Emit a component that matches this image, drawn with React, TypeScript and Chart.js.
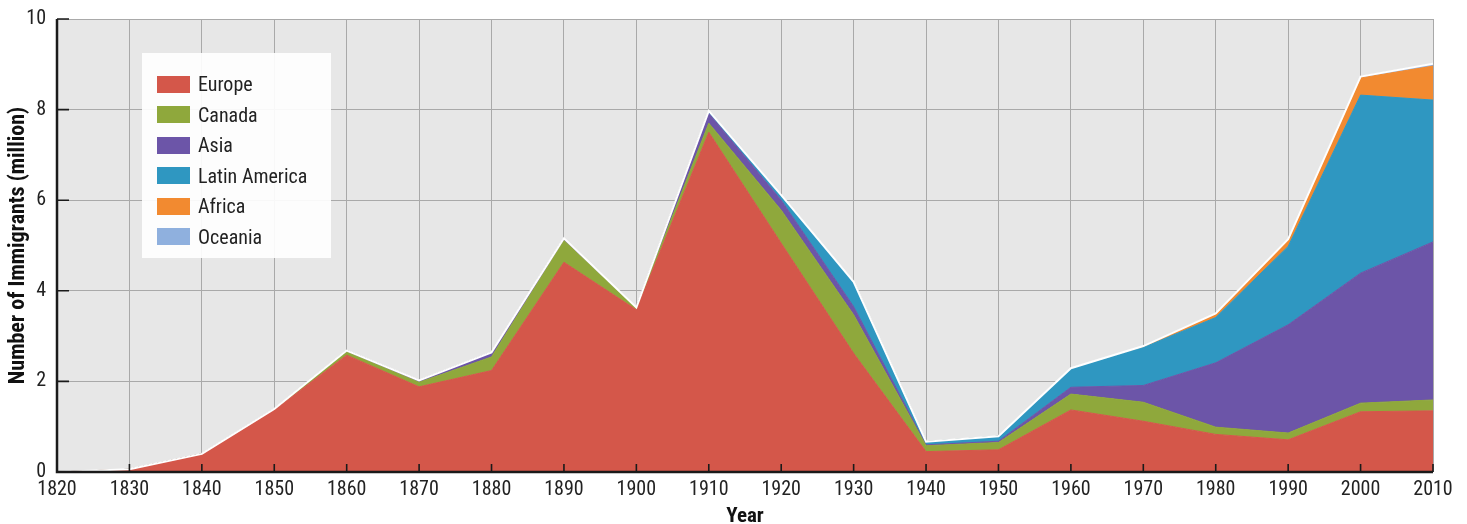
import React, { useEffect, useRef } from "react";
import { Chart, registerables } from "chart.js";

Chart.register(...registerables);

const years = ["1820", "1830", "1840", "1850", "1860", "1870", "1880", "1890", "1900", "1910", "1920", "1930", "1940", "1950", "1960", "1970", "1980", "1990", "2000", "2010"];

const europe = [0, 0.06, 0.4, 1.37, 2.58, 1.88, 2.24, 4.63, 3.58, 7.5, 5.05, 2.62, 0.45, 0.49, 1.37, 1.12, 0.83, 0.71, 1.33, 1.35];
const canada = [0, 0, 0, 0.01, 0.07, 0.1, 0.3, 0.48, 0.03, 0.2, 0.73, 0.85, 0.13, 0.16, 0.35, 0.42, 0.16, 0.15, 0.19, 0.24];
const asia = [0, 0, 0, 0.01, 0.03, 0.04, 0.1, 0.05, 0.02, 0.22, 0.22, 0.18, 0.02, 0.03, 0.15, 0.37, 1.42, 2.39, 2.87, 3.49];
const latinAmerica = [0, 0, 0, 0, 0, 0, 0, 0, 0, 0.05, 0.11, 0.55, 0.07, 0.11, 0.42, 0.84, 1.0, 1.73, 3.93, 3.13];
const africa = [0, 0, 0, 0, 0, 0, 0, 0, 0, 0, 0, 0, 0, 0, 0, 0.02, 0.07, 0.14, 0.38, 0.75];
const oceania = [0, 0, 0, 0, 0, 0, 0, 0, 0, 0, 0, 0, 0, 0, 0, 0.01, 0.02, 0.02, 0.03, 0.05];

const seriesLabels = ["Europe", "Canada", "Asia", "Latin America", "Africa", "Oceania"];
const seriesColors = ["#d4574a", "#8fa83c", "#6c55a8", "#2f97c1", "#f28a30", "#8fb0de"];
const seriesValues = [europe, canada, asia, latinAmerica, africa, oceania];

const yTitle = "Number of Immigrants (million)";
const xTitle = "Year";

const FONT = "'Liberation Sans Narrow', 'Arial Narrow', 'Roboto Condensed', 'Liberation Sans', sans-serif";

export default function App() {
  const ref = useRef<HTMLCanvasElement>(null);

  useEffect(() => {
    if (!ref.current) return;
    const totals = years.map((_, i) => seriesValues.reduce((s, arr) => s + arr[i], 0));

    const bgPlugin = {
      id: "plotBg",
      beforeDraw(chart: any) {
        const { ctx, chartArea: a } = chart;
        ctx.save();
        ctx.fillStyle = "#e7e7e7";
        ctx.fillRect(a.left, a.top, a.right - a.left, a.bottom - a.top);
        ctx.restore();
      },
    };

    const axisPlugin = {
      id: "innerTicks",
      afterDatasetsDraw(chart: any) {
        const { ctx, chartArea: a } = chart;
        const xs = chart.scales.x;
        const ys = chart.scales.y;
        ctx.save();
        ctx.strokeStyle = "#1a1a1a";
        ctx.lineWidth = 1.6;
        ctx.beginPath();
        xs.ticks.forEach((_: any, i: number) => {
          const px = xs.getPixelForTick(i);
          ctx.moveTo(px, a.bottom);
          ctx.lineTo(px, a.bottom - 8);
        });
        ys.ticks.forEach((_: any, i: number) => {
          const py = ys.getPixelForTick(i);
          ctx.moveTo(a.left, py);
          ctx.lineTo(a.left + 12, py);
        });
        ctx.stroke();
        ctx.lineWidth = 2.5;
        ctx.beginPath();
        ctx.moveTo(a.left, a.top);
        ctx.lineTo(a.left, a.bottom);
        ctx.lineTo(a.right, a.bottom);
        ctx.stroke();
        ctx.restore();
      },
    };

    const datasets: any[] = seriesLabels.map((label, i) => ({
      label,
      data: seriesValues[i],
      backgroundColor: seriesColors[i],
      borderColor: seriesColors[i],
      borderWidth: 1,
      pointRadius: 0,
      fill: i === 0 ? "origin" : "-1",
      tension: 0,
      stack: "main",
    }));
    datasets.push({
      label: "total",
      data: totals,
      borderColor: "#ffffff",
      borderWidth: 2,
      pointRadius: 0,
      fill: false,
      stack: "outline",
      order: -1,
    });

    const chart = new Chart(ref.current, {
      type: "line",
      data: { labels: years, datasets },
      plugins: [bgPlugin, axisPlugin],
      options: {
        animation: false,
        responsive: true,
        maintainAspectRatio: false,
        layout: { padding: { top: 19, right: 34, left: 0, bottom: 0 } },
        plugins: { legend: { display: false }, tooltip: { enabled: false } },
        scales: {
          x: {
            type: "category",
            offset: false,
            grid: { color: "#a9a9a9", lineWidth: 1, drawTicks: false },
            border: { display: false },
            ticks: {
              font: { family: FONT, size: 20 },
              color: "#222",
              padding: 6,
              maxRotation: 0,
              autoSkip: false,
            },
            title: {
              display: true,
              text: xTitle,
              font: { family: FONT, size: 21, weight: "bold", lineHeight: 0.7 },
              color: "#111",
              padding: 0,
            },
            afterFit(s: any) {
              s.height = 52;
              s.paddingLeft = 0;
              s.paddingRight = 0;
            },
          },
          y: {
            stacked: true,
            min: 0,
            max: 10,
            grid: { color: "#a9a9a9", lineWidth: 1, drawTicks: false },
            border: { display: false },
            ticks: {
              stepSize: 2,
              font: { family: FONT, size: 20 },
              color: "#222",
              padding: 11,
            },
            title: {
              display: true,
              text: yTitle,
              font: { family: FONT, size: 22, weight: "bold", lineHeight: 1 },
              color: "#111",
              padding: { top: 7, bottom: 7 },
            },
            afterFit(s: any) {
              s.width = 57;
              s.paddingTop = 0;
              s.paddingBottom = 0;
            },
          },
        },
      },
    });
    return () => chart.destroy();
  }, []);

  return (
    <div style={{ position: "fixed", left: 0, top: 0, width: 1467, height: 524, background: "#fff" }}>
      <canvas ref={ref} />
      <div
        style={{
          position: "absolute",
          left: 142,
          top: 53,
          width: 189,
          height: 205,
          background: "rgba(255,255,255,0.92)",
          boxSizing: "border-box",
          paddingLeft: 15,
          paddingTop: 16,
          fontFamily: FONT,
        }}
      >
        {seriesLabels.map((label, i) => (
          <div key={label} style={{ display: "flex", alignItems: "center", height: 30.5 }}>
            <span
              style={{
                display: "inline-block",
                width: 33,
                height: 17,
                background: seriesColors[i],
                marginRight: 8,
              }}
            />
            <span style={{ fontSize: 20, color: "#222", lineHeight: "20px" }}>{label}</span>
          </div>
        ))}
      </div>
    </div>
  );
}
